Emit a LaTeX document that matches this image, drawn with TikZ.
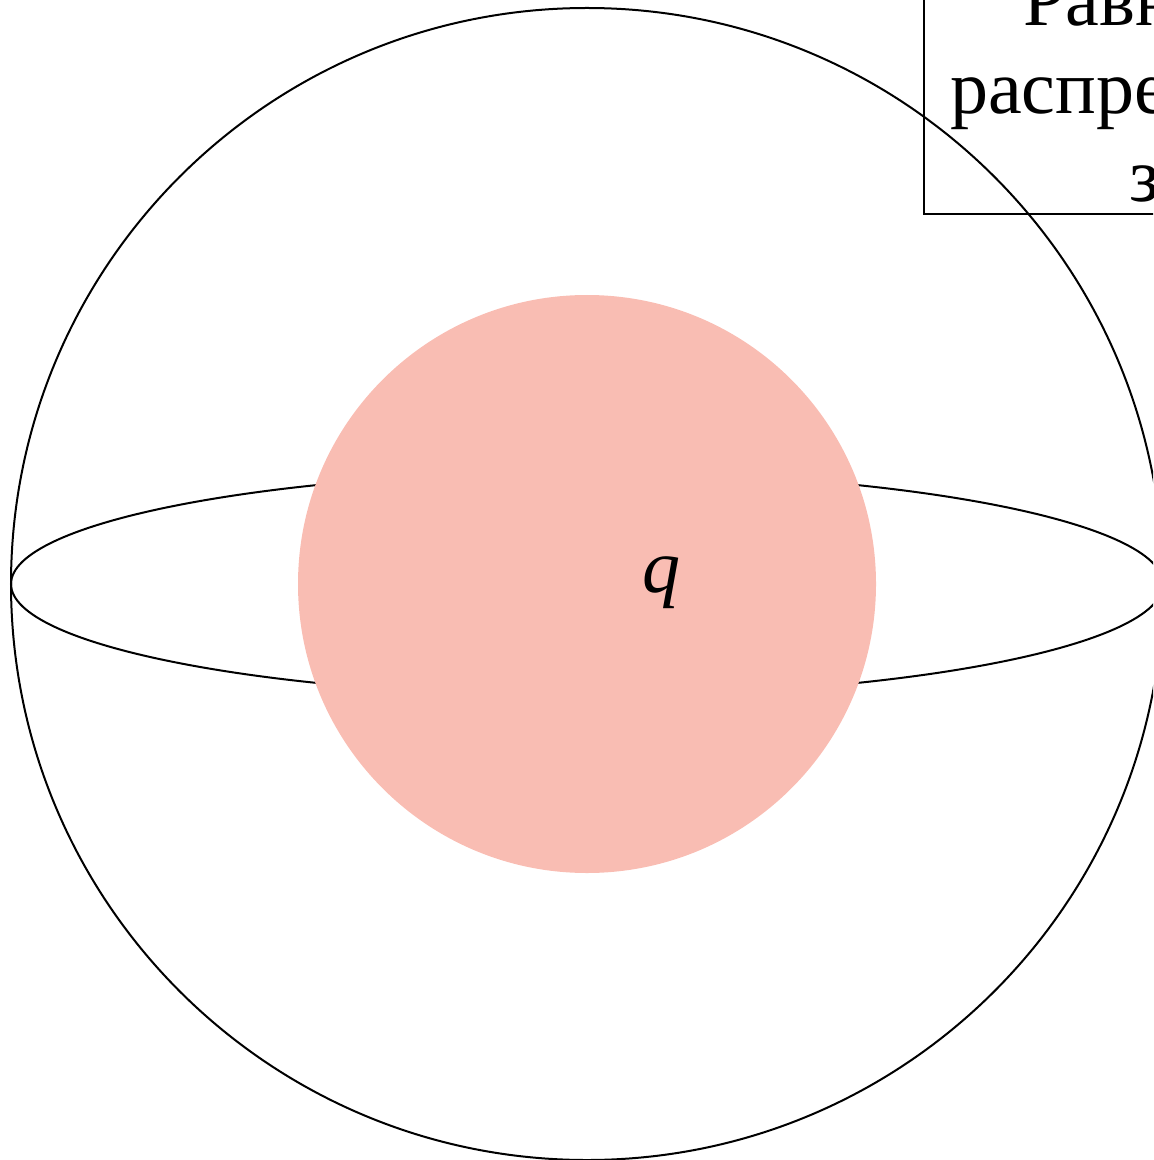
\documentclass[tikz,border=0pt]{standalone}
\usepackage{fontspec}
\setmainfont{Liberation Serif}
\usetikzlibrary{positioning}
\definecolor{chargepink}{HTML}{F9BDB3}

\begin{document}
\begin{tikzpicture}[
    x=0.5pt, y=-0.5pt,
    ball/.style={circle, inner sep=0pt, outer sep=0pt},
    labelbox/.style={rectangle, draw, line width=1pt, align=center,
                font=\fontsize{38}{44}\selectfont, text depth=0pt,
                inner xsep=13pt, inner ysep=6pt}
  ]
    \useasboundingbox (0,0) rectangle (1153,1160);
    \clip (0,0) rectangle (1153,1160);

    \coordinate (O) at (587,584);
    \node[ball, draw, line width=1pt, minimum size=576pt] (sphere) at (O) {};
    \draw[line width=1pt] (O) ellipse [x radius=288pt, y radius=56pt];
    \node[ball, fill=chargepink, minimum size=289pt] (core) at (O) {};
    \node[font=\fontsize{38}{44}\selectfont\itshape, inner sep=0pt, anchor=base west] (q) at (642,592) {q};

    \node[labelbox, anchor=south west] (charge) at (923,215) {Равномерно\\распределённый\\заряд};
  \end{tikzpicture}
\end{document}
